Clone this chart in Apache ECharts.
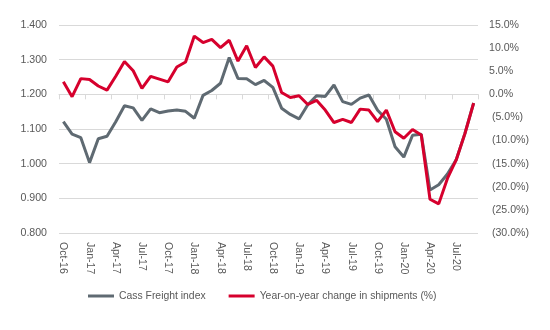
<!DOCTYPE html>
<html>
<head>
<meta charset="utf-8">
<script src="https://cdn.jsdelivr.net/npm/echarts@6/dist/echarts.min.js"></script>
<style>
html,body{margin:0;padding:0;background:#fff;}
#chart{width:550px;height:330px;}
</style>
</head>
<body>
<div id="chart"></div>
<script>
var categories = [
  'Oct-16','Nov-16','Dec-16','Jan-17','Feb-17','Mar-17','Apr-17','May-17','Jun-17','Jul-17','Aug-17','Sep-17',
  'Oct-17','Nov-17','Dec-17','Jan-18','Feb-18','Mar-18','Apr-18','May-18','Jun-18','Jul-18','Aug-18','Sep-18',
  'Oct-18','Nov-18','Dec-18','Jan-19','Feb-19','Mar-19','Apr-19','May-19','Jun-19','Jul-19','Aug-19','Sep-19',
  'Oct-19','Nov-19','Dec-19','Jan-20','Feb-20','Mar-20','Apr-20','May-20','Jun-20','Jul-20','Aug-20','Sep-20'
];
var cassIndex = [
  1.121,1.085,1.075,1.003,1.072,1.079,1.121,1.167,1.161,1.125,1.158,1.147,
  1.152,1.155,1.151,1.131,1.197,1.211,1.232,1.306,1.246,1.245,1.228,1.240,
  1.220,1.160,1.142,1.129,1.170,1.196,1.194,1.227,1.179,1.171,1.189,1.198,
  1.154,1.128,1.049,1.019,1.082,1.085,0.924,0.939,0.970,1.011,1.087,1.175
];
var yoyChange = [
  2.7,-0.5,3.4,3.2,1.8,0.9,3.9,7.1,5.1,1.3,3.9,3.3,
  2.7,5.9,7.0,12.6,11.2,11.9,10.1,11.7,7.2,10.5,5.8,8.1,
  6.1,0.4,-0.7,-0.3,-2.2,-1.3,-3.4,-6.1,-5.4,-6.1,-3.2,-3.4,
  -5.9,-3.4,-8.1,-9.5,-7.6,-8.8,-22.7,-23.7,-18.2,-14.2,-8.5,-1.9
];
var seriesNames = ['Cass Freight index', 'Year-on-year change in shipments (%)'];

var FONT = 'Liberation Sans';
var TXT = '#595959';
var chart = echarts.init(document.getElementById('chart'), null, {renderer: 'canvas'});
chart.setOption({
  animation: false,
  backgroundColor: '#ffffff',
  grid: {left: 59, right: 72, top: 25, bottom: 97, containLabel: false},
  legend: {
    left: 88, top: 291, padding: 0,
    itemWidth: 26, itemHeight: 3, itemGap: 23,
    icon: 'rect',
    textStyle: {fontFamily: FONT, fontSize: 10.4, color: TXT},
    data: seriesNames
  },
  xAxis: {
    type: 'category',
    data: categories,
    boundaryGap: true,
    axisLine: {show: true, lineStyle: {color: '#d9d9d9', width: 1}},
    axisTick: {show: true, interval: 2, length: 5, lineStyle: {color: '#d9d9d9'}},
    axisLabel: {interval: 2, rotate: -90, margin: 9, fontFamily: FONT, fontSize: 10.6, color: TXT}
  },
  yAxis: [{
    type: 'value', min: 0.8, max: 1.4, interval: 0.1,
    axisLine: {show: false}, axisTick: {show: false},
    splitLine: {show: true, lineStyle: {color: '#d9d9d9', width: 1}},
    axisLabel: {margin: 12, fontFamily: FONT, fontSize: 10.6, color: TXT,
      formatter: function (v) { return v.toFixed(3); }}
  }, {
    type: 'value', min: -30, max: 15, interval: 5,
    axisLine: {show: false}, axisTick: {show: false},
    splitLine: {show: false},
    axisLabel: {margin: 11, fontFamily: FONT, fontSize: 10.6, color: TXT,
      formatter: function (v) {
        var a = Math.abs(v).toFixed(1) + '%';
        return v < 0 ? ' (' + a + ')' : a;
      }}
  }],
  series: [{
    name: seriesNames[0], type: 'line', yAxisIndex: 0, data: cassIndex,
    symbol: 'none', lineStyle: {color: '#5f6a72', width: 3}, itemStyle: {color: '#5f6a72'}
  }, {
    name: seriesNames[1], type: 'line', yAxisIndex: 1, data: yoyChange,
    symbol: 'none', lineStyle: {color: '#d6002d', width: 3}, itemStyle: {color: '#d6002d'}
  }]
});
</script>
</body>
</html>
